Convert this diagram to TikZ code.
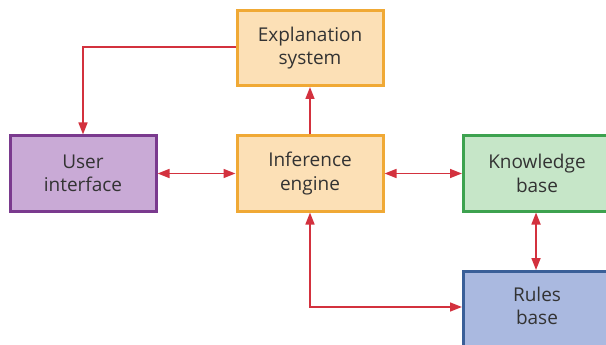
\documentclass[tikz,border=0pt]{standalone}
\usepackage{fontspec}
\setmainfont{Open Sans}
\usetikzlibrary{arrows.meta}
\definecolor{orfill}{HTML}{FCE0B6}
\definecolor{ordraw}{HTML}{F0A935}
\definecolor{pufill}{HTML}{C9AAD6}
\definecolor{pudraw}{HTML}{7A3A8E}
\definecolor{grfill}{HTML}{C6E6C8}
\definecolor{grdraw}{HTML}{3DA24F}
\definecolor{blfill}{HTML}{AAB9E0}
\definecolor{bldraw}{HTML}{3A5F98}
\definecolor{arr}{HTML}{D3313E}
\definecolor{txt}{HTML}{333333}
\tikzset{
  lbl/.style={align=center, font=\fontsize{19}{23.5}\selectfont, text=txt},
  blk/.style={rectangle, line width=3pt, minimum width=146pt, minimum height=75pt,
    lbl, inner sep=0pt},
  conn/.style={draw=arr, line width=1.7pt, -{Triangle[length=12pt,width=9pt]}},
  conn2/.style={draw=arr, line width=1.7pt, {Triangle[length=12pt,width=9pt]}-{Triangle[length=12pt,width=9pt]}},
}
\begin{document}
\begin{tikzpicture}[x=1pt,y=1pt]
\useasboundingbox (0,0) rectangle (606,-345);
\begin{scope}
\clip (0,0) rectangle (606,-345);
\node[blk, fill=orfill, draw=ordraw] (expl) at (310,-48) {Explanation\\system};
\node[blk, fill=pufill, draw=pudraw] (ui) at (83,-173.5) {User\\interface};
\node[blk, fill=orfill, draw=ordraw] (inf) at (310,-173.5) {Inference\\engine};
\node[blk, fill=grfill, draw=grdraw, minimum width=200pt, anchor=west] (kb) at (462,-173.5) {};
\node[lbl] (kbt) at (537,-173.5) {Knowledge\\base};
\node[blk, fill=blfill, draw=bldraw, minimum width=200pt, minimum height=150pt, anchor=north west] (rb) at (462,-270) {};
\node[lbl] (rbt) at (537,-306) {Rules\\base};
\coordinate (c1) at (83,-47);
\coordinate (c2) at (310,-307);
\draw[conn] (expl.west |- c1) -- (c1) -- (ui.north);
\draw[conn] (inf.north) -- (expl.south);
\draw[conn2] (ui.east) -- (inf.west);
\draw[conn2] (inf.east) -- (kb.west);
\draw[conn2] (kb.south -| 536,0) -- (rb.north -| 536,0);
\draw[conn2] (inf.south) -- (c2) -- (rb.west |- c2);
\end{scope}
\end{tikzpicture}
\end{document}
